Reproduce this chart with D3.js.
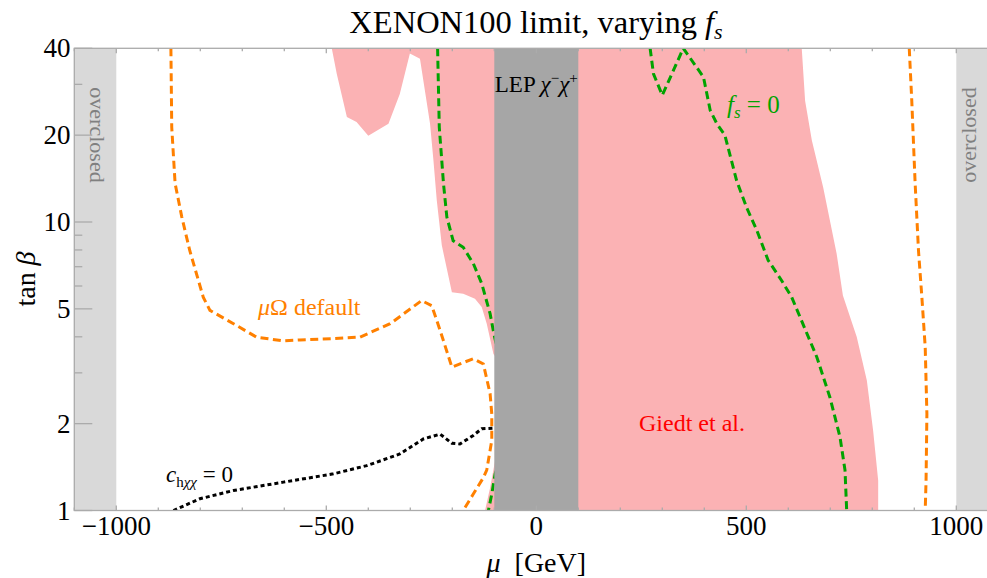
<!DOCTYPE html>
<html>
<head>
<meta charset="utf-8">
<script src="https://cdn.jsdelivr.net/npm/d3@7"></script>
<style>
  html, body { margin: 0; padding: 0; background: #fff; }
  text { font-family: "Liberation Serif", "DejaVu Serif", serif; }
</style>
</head>
<body>
<div id="chart"></div>
<script>
'use strict';

// [mu, tan beta] pairs
var giedtRegion = [[-487,40],[-475,32.6],[-451,23.1],[-428,22.2],[-400,19.9],[-352,21.9],[-325,27.8],
    [-301,38.4],[-277,36.8],[-253,21.9],[-245,16.4],[-237,11.9],[-225,8.3],[-201,5.71],[-174,5.64],
    [-146,5.42],[-130,5.07],[-118,4.44],[-102,3.49],[-90,3.3],[-90,1.6],[-98,1.49],[-110,1.2],[-122,1],
    [814,1],[814,1.27],[802,1.89],[787,2.82],[763,3.99],[730,5.56],[715,7.78],[683,13.2],[656,19.2],
    [640,26.3],[632,40]];

var greenLeft = [[-235,40],[-231,21.3],[-221,13.6],[-213,10.4],[-198,8.61],[-174,8.17],[-150,7.18],
    [-130,6.12],[-110,4.81],[-101,4.1],[-80,3.0],[-80,1.6],[-98,1.34],[-106,1.14],[-114,1]];
var greenRight = [[271,40],[279,32.6],[300,27.5],[350,40],[398,31.8],[414,24.4],[430,21.9],[449,20],
    [477,13.9],[501,11.2],[525,9.36],[552,7.37],[584,6.27],[608,5.49],[628,4.68],[668,3.4],
    [699,2.47],[723,1.8],[735,1.38],[739,1]];

var orangeLeft = [[-870,40],[-868,21.3],[-860,13.6],[-844,10.4],[-825,7.95],[-793,5.49],[-777,4.94],
    [-721,4.44],[-666,3.99],[-602,3.87],[-563,3.9],[-483,3.94],[-420,3.99],[-348,4.44],[-273,5.34],
    [-249,5.13],[-229,4.21],[-201,3.14],[-150,3.36],[-126,3.22],[-110,2.54],[-106,2.16],[-106,1.75],
    [-118,1.38],[-126,1.30],[-150,1.14],[-174,1]];
var orangeRight = [[888,40],[894,26.3],[902,13.6],[910,7.95],[918,5.49],[926,3.68],[930,2.16],
    [928,1.27],[926,1]];

var blackDotted = [[-864,1],[-801,1.098],[-721,1.173],[-602,1.254],[-483,1.34],[-404,1.43],
    [-325,1.57],[-269,1.77],[-229,1.84],[-201,1.71],[-182,1.70],[-150,1.82],[-130,1.92],[-100,1.93]];

var lepBand = [-100, 100];
var overclosedLeft = [-1100, -1000];
var overclosedRight = [1000, 1100];

var xTicks = [-1000, -500, 0, 500, 1000];
var xMinor = d3.range(-1100, 1101, 100).filter(function(d) { return xTicks.indexOf(d) < 0; });
var yTicks = [1, 2, 5, 10, 20, 40];
var yMinor = [3, 4, 6, 7, 8, 9, 30];

// dimensions
var W = 987, H = 578;
var m = {left: 74.3, right: 998.3, top: 48.3, bottom: 510.5};

var x = d3.scaleLinear().domain([-1100, 1100]).range([m.left, m.right]);
var y = d3.scaleLog().domain([1, 40]).range([m.bottom, m.top]);

var svg = d3.select("#chart").append("svg")
    .attr("width", W).attr("height", H)
    .attr("font-family", "'Liberation Serif', 'DejaVu Serif', serif");

svg.append("clipPath").attr("id", "clip")
  .append("rect").attr("x", m.left).attr("y", m.top)
    .attr("width", m.right - m.left).attr("height", m.bottom - m.top);

var plot = svg.append("g").attr("clip-path", "url(#clip)");

var line = d3.line()
    .x(function(d) { return x(d[0]); })
    .y(function(d) { return y(d[1]); });

// Giedt et al. region
plot.append("path")
    .datum(giedtRegion)
    .attr("fill", "#fbb2b4")
    .attr("d", function(d) { return line(d) + "Z"; });

// contours
function contour(data, color, dash) {
    plot.append("path")
        .datum(data)
        .attr("fill", "none")
        .attr("stroke", color)
        .attr("stroke-width", 3)
        .attr("stroke-dasharray", dash)
        .attr("d", line);
}
contour(greenLeft, "#00a300", "8,4.5");
contour(greenRight, "#00a300", "8,4.5");
contour(orangeLeft, "#ff8000", "8,4.5");
contour(orangeRight, "#ff8000", "8,4.5");
contour(blackDotted, "#000", "4,3");

// LEP band and overclosed bands
plot.append("rect")
    .attr("x", x(lepBand[0])).attr("y", m.top)
    .attr("width", x(lepBand[1]) - x(lepBand[0])).attr("height", m.bottom - m.top)
    .attr("fill", "#a6a6a6");

[overclosedLeft, overclosedRight].forEach(function(b) {
    plot.append("rect")
        .attr("x", x(b[0])).attr("y", m.top)
        .attr("width", x(b[1]) - x(b[0])).attr("height", m.bottom - m.top)
        .attr("fill", "#d9d9d9");
});

// labels inside the plot
svg.append("text")
    .attr("transform", "translate(" + (x(-1050) + 2) + ",135) rotate(90)")
    .attr("text-anchor", "middle").attr("dominant-baseline", "central")
    .attr("font-size", 22).attr("fill", "#808080")
    .text("overclosed");
svg.append("text")
    .attr("transform", "translate(" + (x(1050) - 9) + ",135) rotate(-90)")
    .attr("text-anchor", "middle").attr("dominant-baseline", "central")
    .attr("font-size", 22).attr("fill", "#808080")
    .text("overclosed");

var lep = svg.append("text")
    .attr("x", x(0)).attr("y", 91.5)
    .attr("text-anchor", "middle").attr("font-size", 23);
lep.append("tspan").text("LEP ");
lep.append("tspan").attr("font-style", "italic").text("χ");
lep.append("tspan").attr("font-size", 15).attr("dy", -9).text("−");
lep.append("tspan").attr("font-style", "italic").attr("dy", 9).text("χ");
lep.append("tspan").attr("font-size", 15).attr("dy", -9).text("+");

var fs = svg.append("text")
    .attr("x", 727).attr("y", 113)
    .attr("font-size", 25).attr("fill", "#00a300");
fs.append("tspan").attr("font-style", "italic").text("f");
fs.append("tspan").attr("font-style", "italic").attr("font-size", 17).attr("dy", 5).text("s");
fs.append("tspan").attr("dy", -5).text(" = 0");

var mo = svg.append("text")
    .attr("x", 258).attr("y", 315)
    .attr("font-size", 24).attr("fill", "#ff8000");
mo.append("tspan").attr("font-style", "italic").text("μ");
mo.append("tspan").text("Ω default");

var ch = svg.append("text")
    .attr("x", 166).attr("y", 482)
    .attr("font-size", 23).attr("fill", "#000");
ch.append("tspan").attr("font-style", "italic").text("c");
ch.append("tspan").attr("font-size", 15).attr("dy", 5).text("h");
ch.append("tspan").attr("font-size", 15).attr("font-style", "italic").text("χχ");
ch.append("tspan").attr("dy", -5).text(" = 0");

svg.append("text")
    .attr("x", 639).attr("y", 431)
    .attr("font-size", 24).attr("fill", "#ff0000")
    .text("Giedt et al.");

// frame
var frame = svg.append("g").attr("stroke", "#ababab").attr("stroke-width", 1.3).attr("fill", "none");
frame.append("rect")
    .attr("x", m.left).attr("y", m.top)
    .attr("width", m.right - m.left).attr("height", m.bottom - m.top);

xTicks.concat(xMinor).forEach(function(v) {
    var len = xTicks.indexOf(v) >= 0 ? 5 : 3;
    frame.append("line").attr("x1", x(v)).attr("x2", x(v)).attr("y1", m.bottom).attr("y2", m.bottom - len);
    frame.append("line").attr("x1", x(v)).attr("x2", x(v)).attr("y1", m.top).attr("y2", m.top + len);
});
yTicks.concat(yMinor).forEach(function(v) {
    var len = yTicks.indexOf(v) >= 0 ? 18 : 8;
    frame.append("line").attr("x1", m.left).attr("x2", m.left + len).attr("y1", y(v)).attr("y2", y(v));
});

// tick labels
svg.selectAll(".xl").data(xTicks).enter().append("text")
    .attr("x", function(d) { return x(d); }).attr("y", 535)
    .attr("text-anchor", "middle").attr("font-size", 27)
    .text(function(d) { return d < 0 ? "−" + Math.abs(d) : d; });

svg.selectAll(".yl").data(yTicks).enter().append("text")
    .attr("x", 70.5).attr("y", function(d) { return y(d); })
    .attr("dy", "0.34em")
    .attr("text-anchor", "end").attr("font-size", 27)
    .text(function(d) { return d; });

// axis titles
var xl = svg.append("text")
    .attr("x", x(0)).attr("y", 572)
    .attr("text-anchor", "middle").attr("font-size", 28);
xl.append("tspan").attr("font-style", "italic").text("μ");
xl.append("tspan").attr("xml:space", "preserve").text("  [GeV]");

var yl = svg.append("text")
    .attr("transform", "translate(35,279) rotate(-90)")
    .attr("text-anchor", "middle").attr("font-size", 28);
yl.append("tspan").text("tan ");
yl.append("tspan").attr("font-style", "italic").text("β");

// title
var tt = svg.append("text")
    .attr("x", 536).attr("y", 32.5)
    .attr("text-anchor", "middle").attr("font-size", 32.5);
tt.append("tspan").text("XENON100 limit, varying ");
tt.append("tspan").attr("font-style", "italic").text("f");
tt.append("tspan").attr("font-style", "italic").attr("font-size", 22).attr("dy", 6).text("s");
</script>
</body>
</html>
